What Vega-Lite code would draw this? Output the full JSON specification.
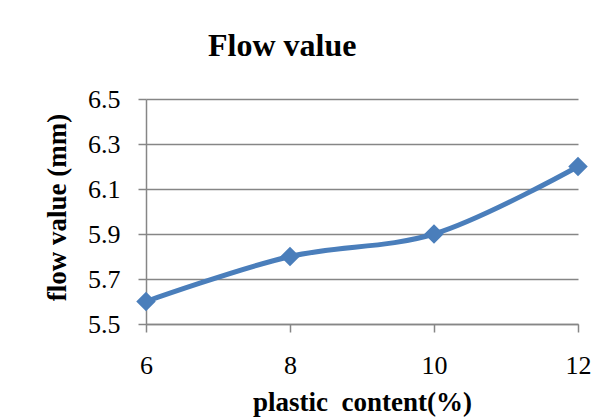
{
  "$schema": "https://vega.github.io/schema/vega-lite/v6.json",
  "width": 432,
  "height": 225,
  "autosize": {"type": "none"},
  "padding": {"left": 146, "top": 99, "right": 37, "bottom": 95},
  "background": "white",
  "title": {
    "text": "Flow value",
    "anchor": "start",
    "frame": "group",
    "dx": 62,
    "offset": -2,
    "baseline": "alphabetic",
    "font": "Liberation Serif",
    "fontSize": 32,
    "fontWeight": "bold",
    "color": "#000000"
  },
  "data": {
    "values": [
      {"plastic": 6, "flow": 5.6},
      {"plastic": 8, "flow": 5.8},
      {"plastic": 10, "flow": 5.9},
      {"plastic": 12, "flow": 6.2}
    ]
  },
  "config": {
    "view": {"stroke": null},
    "axis": {
      "labelFont": "Liberation Serif",
      "labelFontSize": 26,
      "labelColor": "#000000",
      "titleFont": "Liberation Serif",
      "titleFontSize": 27,
      "titleFontWeight": "bold",
      "titleColor": "#000000",
      "domainColor": "#868686",
      "domainWidth": 1.5,
      "tickColor": "#868686",
      "tickWidth": 1.5,
      "tickSize": 8,
      "gridColor": "#868686",
      "gridWidth": 1.5,
      "gridOpacity": 1
    }
  },
  "mark": {
    "type": "line",
    "interpolate": "catmull-rom",
    "color": "#4a7ebb",
    "strokeWidth": 5,
    "point": {"shape": "diamond", "size": 380, "filled": true, "color": "#4a7ebb", "opacity": 1}
  },
  "encoding": {
    "x": {
      "field": "plastic",
      "type": "quantitative",
      "scale": {"domain": [6, 12], "nice": false, "zero": false},
      "axis": {
        "values": [6, 8, 10, 12],
        "grid": false,
        "labelPadding": 20,
        "labelFlush": false,
        "title": "plastic\u00a0 content(%)",
        "titleY": 86,
        "titleBaseline": "alphabetic"
      }
    },
    "y": {
      "field": "flow",
      "type": "quantitative",
      "scale": {"domain": [5.5, 6.5], "nice": false, "zero": false},
      "axis": {
        "values": [5.5, 5.7, 5.9, 6.1, 6.3, 6.5],
        "format": ".1f",
        "grid": true,
        "labelPadding": 18,
        "labelFlush": false,
        "title": "flow value (mm)",
        "titleAngle": 270,
        "titleX": -89,
        "titleY": 108,
        "titleAlign": "center",
        "titleBaseline": "middle"
      }
    }
  }
}
